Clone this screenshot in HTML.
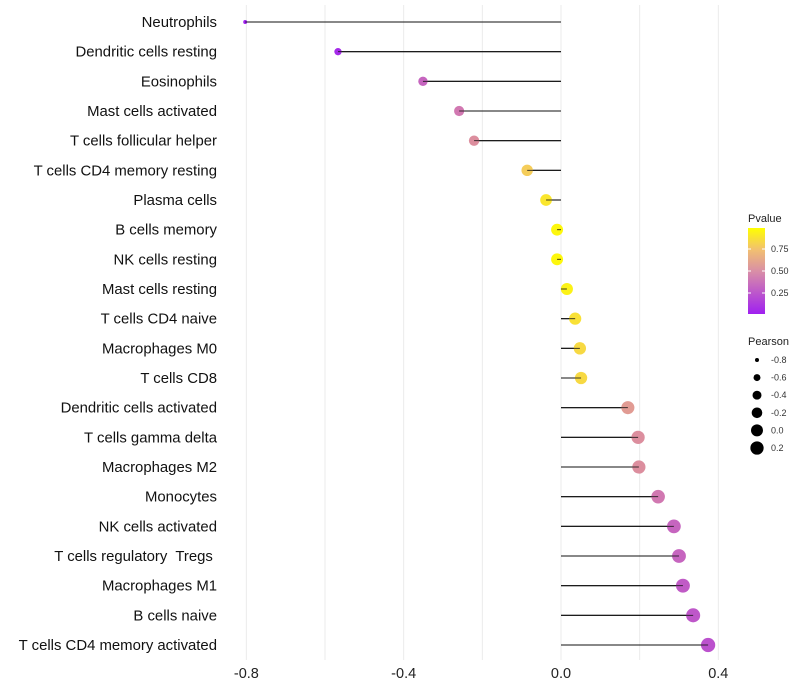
<!DOCTYPE html>
<html><head><meta charset="utf-8">
<style>
html,body{margin:0;padding:0;background:#fff;}
svg{display:block;font-family:"Liberation Sans",sans-serif;}
#ylabels text{white-space:pre;}
</style></head>
<body>
<svg id="chart" width="800" height="700" viewBox="0 0 800 700">
<defs>
<linearGradient id="pg" x1="0" y1="1" x2="0" y2="0">
<stop offset="0" stop-color="#A020F0"/>
<stop offset="0.5" stop-color="#D98FA6"/>
<stop offset="0.75" stop-color="#F2C070"/>
<stop offset="1" stop-color="#FFFF00"/>
</linearGradient>
</defs>
<g id="grid"></g>
<g id="marks"></g>
<g id="ylabels"></g>
<g id="xticks"></g>
<g>
<text x="748" y="222" font-size="11" fill="#222">Pvalue</text>
<rect x="748" y="228" width="17" height="86" fill="url(#pg)"/>
<line x1="748" y1="249" x2="751" y2="249" stroke="#fff"/><line x1="762" y1="249" x2="765" y2="249" stroke="#fff"/>
<line x1="748" y1="271" x2="751" y2="271" stroke="#fff"/><line x1="762" y1="271" x2="765" y2="271" stroke="#fff"/>
<line x1="748" y1="293" x2="751" y2="293" stroke="#fff"/><line x1="762" y1="293" x2="765" y2="293" stroke="#fff"/>
<text x="771" y="252" font-size="9" fill="#333">0.75</text>
<text x="771" y="274" font-size="9" fill="#333">0.50</text>
<text x="771" y="296" font-size="9" fill="#333">0.25</text>
</g>
<g id="sizeLegend">
<text x="748" y="345" font-size="11" fill="#222">Pearson</text>
</g>
</svg>
<script>
const categories=["Neutrophils","Dendritic cells resting","Eosinophils","Mast cells activated","T cells follicular helper","T cells CD4 memory resting","Plasma cells","B cells memory","NK cells resting","Mast cells resting","T cells CD4 naive","Macrophages M0","T cells CD8","Dendritic cells activated","T cells gamma delta","Macrophages M2","Monocytes","NK cells activated","T cells regulatory  Tregs ","Macrophages M1","B cells naive","T cells CD4 memory activated"];
const pearson=[-0.803,-0.567,-0.351,-0.259,-0.221,-0.086,-0.038,-0.01,-0.01,0.015,0.036,0.048,0.051,0.17,0.196,0.198,0.247,0.287,0.30,0.31,0.336,0.374];
const pvalue=[0.0,0.05,0.35,0.45,0.55,0.8,0.9,0.97,0.97,0.95,0.88,0.85,0.85,0.6,0.55,0.55,0.45,0.35,0.35,0.3,0.28,0.25];
const xTicks=[-0.8,-0.4,0.0,0.4];
const xGrid=[-0.8,-0.6,-0.4,-0.2,0,0.2,0.4];
const sizeLegendVals=[-0.8,-0.6,-0.4,-0.2,0.0,0.2];

const NS="http://www.w3.org/2000/svg";
const xs=v=>561+v*393.3;
const ys=i=>22+i*29.667;
const rs=v=>Math.sqrt(Math.max(1,4+40*(v+0.8)));
const stops=[[0,[160,32,240]],[0.5,[214,130,170]],[0.75,[242,192,112]],[1,[255,255,0]]];
function col(p){for(let i=1;i<stops.length;i++){if(p<=stops[i][0]){const a=stops[i-1],b=stops[i];const t=(p-a[0])/(b[0]-a[0]);const c=a[1].map((v,k)=>Math.round(v+(b[1][k]-v)*t));return `rgb(${c})`;}}return "rgb(255,255,0)";}
function mk(tag,attrs,parent){const e=document.createElementNS(NS,tag);for(const k in attrs)e.setAttribute(k,attrs[k]);parent.appendChild(e);return e;}
const grid=document.getElementById('grid'),marks=document.getElementById('marks'),yl=document.getElementById('ylabels'),xt=document.getElementById('xticks'),sl=document.getElementById('sizeLegend');
xGrid.forEach(v=>{const l=mk('line',{x1:xs(v),x2:xs(v),y1:5,y2:660,stroke:'#ebebeb','stroke-width':1},grid);

});
xTicks.forEach(v=>{const t=mk('text',{x:xs(v),y:678,'font-size':14.5,'text-anchor':'middle',fill:'#222'},xt);t.textContent=v.toFixed(1);

});
categories.forEach((c,i)=>{const y=ys(i);
const t=mk('text',{x:217,y:y+5,'font-size':14.9,'text-anchor':'end',fill:'#111'},yl);t.textContent=c;


const l=mk('line',{x1:xs(0),x2:xs(pearson[i]),y1:y,y2:y,stroke:'#111','stroke-width':1.1},marks);


const d=mk('circle',{cx:xs(pearson[i]),cy:y,r:rs(pearson[i]),fill:col(pvalue[i])},marks);


mk('line',{x1:xs(0),x2:xs(pearson[i]),y1:y,y2:y,stroke:'#111','stroke-width':1,'stroke-opacity':0.8},marks);});
sizeLegendVals.forEach((v,i)=>{const y=360+i*17.6;
const c=mk('circle',{cx:757,cy:y,r:rs(v),fill:'#000'},sl);


const t=mk('text',{x:771,y:y+3,'font-size':9,fill:'#333'},sl);t.textContent=v.toFixed(1);

});
</script>
</body></html>
